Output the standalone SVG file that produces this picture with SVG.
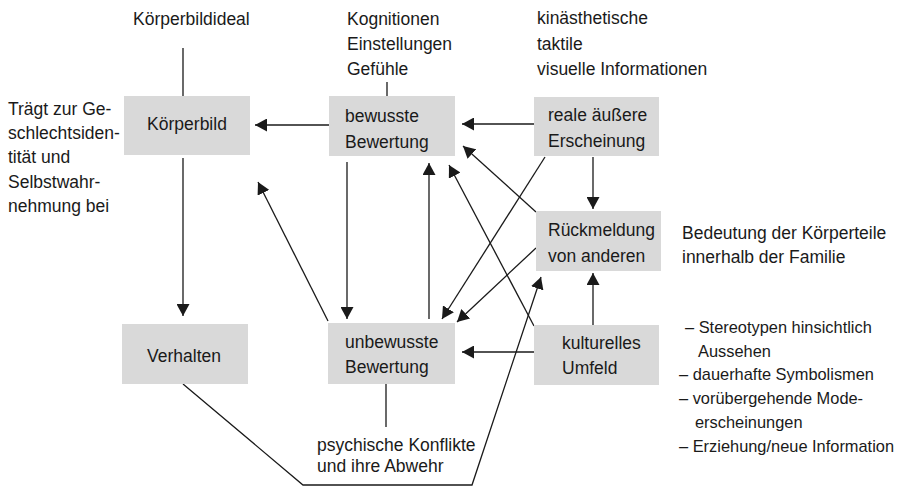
<svg xmlns="http://www.w3.org/2000/svg" width="898" height="487" viewBox="0 0 898 487">
<style>
  .box { fill: #d9d9d9; }
  text { font-family: "Liberation Sans", Arial, sans-serif; font-size: 17.5px; fill: #1a1a1a; }
  .c { text-anchor: middle; }
  .li { font-size: 16.4px; }
  .ln { stroke: #1a1a1a; stroke-width: 1.3; fill: none; }
  .ar { stroke: #1a1a1a; stroke-width: 1.3; fill: none; marker-end: url(#ah); }
</style>
<defs>
  <marker id="ah" markerUnits="userSpaceOnUse" markerWidth="13" markerHeight="13" refX="12" refY="6.5" orient="auto">
    <path d="M0,0 L12,6.5 L0,13 z" fill="#1a1a1a"/>
  </marker>
</defs>
<rect width="898" height="487" fill="#ffffff"/>

<g id="connectors">
  <line class="ln" x1="183" y1="48" x2="183" y2="96"/>
  <line class="ln" x1="387" y1="82" x2="387" y2="96"/>
  <line class="ln" x1="386" y1="384" x2="386" y2="427"/>
  <line class="ar" x1="183" y1="158" x2="183" y2="316"/>
  <line class="ar" x1="329" y1="125" x2="255" y2="125"/>
  <line class="ar" x1="534" y1="124" x2="462" y2="124"/>
  <line class="ar" x1="593" y1="157" x2="593" y2="209"/>
  <line class="ar" x1="347" y1="162" x2="347" y2="319"/>
  <line class="ar" x1="429" y1="319" x2="429" y2="163"/>
  <line class="ar" x1="328" y1="321" x2="258" y2="182"/>
  <line class="ar" x1="536" y1="212" x2="463" y2="146"/>
  <line class="ar" x1="534" y1="326" x2="449" y2="165"/>
  <line class="ar" x1="545" y1="157" x2="442" y2="319"/>
  <line class="ar" x1="536" y1="248" x2="457" y2="322"/>
  <line class="ar" x1="534" y1="352" x2="462" y2="352"/>
  <line class="ar" x1="593" y1="325" x2="593" y2="273"/>
  <polyline class="ar" points="183,384 303,485 472,485 541,277"/>
</g>

<g id="koerperbild">
  <rect class="box" x="124" y="96" width="126" height="59"/>
  <text class="c" x="187" y="130">Körperbild</text>
</g>
<g id="bewusste">
  <rect class="box" x="329" y="96" width="126" height="60"/>
  <text x="345" y="122">bewusste</text>
  <text x="345" y="148">Bewertung</text>
</g>
<g id="reale">
  <rect class="box" x="534" y="97" width="125" height="59"/>
  <text x="548" y="121">reale äußere</text>
  <text x="548" y="147">Erscheinung</text>
</g>
<g id="rueckmeldung">
  <rect class="box" x="536" y="211" width="125" height="60"/>
  <text x="548" y="236">Rückmeldung</text>
  <text x="548" y="262">von anderen</text>
</g>
<g id="verhalten">
  <rect class="box" x="122" y="324" width="126" height="60"/>
  <text class="c" x="184" y="362">Verhalten</text>
</g>
<g id="unbewusste">
  <rect class="box" x="328" y="323" width="127" height="61"/>
  <text x="345" y="348">unbewusste</text>
  <text x="345" y="373">Bewertung</text>
</g>
<g id="kulturelles">
  <rect class="box" x="534" y="325" width="125" height="60"/>
  <text x="562" y="349">kulturelles</text>
  <text x="562" y="374">Umfeld</text>
</g>

<g id="labels">
  <text x="133" y="25">Körperbildideal</text>
  <text x="347" y="25">Kognitionen</text>
  <text x="347" y="50">Einstellungen</text>
  <text x="347" y="75">Gefühle</text>
  <text x="537" y="24">kinästhetische</text>
  <text x="537" y="50">taktile</text>
  <text x="537" y="75">visuelle Informationen</text>
  <text x="8" y="115">Trägt zur Ge-</text>
  <text x="8" y="139">schlechtsiden-</text>
  <text x="8" y="163">tität und</text>
  <text x="8" y="188">Selbstwahr-</text>
  <text x="8" y="212">nehmung bei</text>
  <text x="682" y="239">Bedeutung der Körperteile</text>
  <text x="682" y="263">innerhalb der Familie</text>
  <text class="li" x="685" y="333">– Stereotypen hinsichtlich</text>
  <text class="li" x="698" y="357">Aussehen</text>
  <text class="li" x="679" y="380">– dauerhafte Symbolismen</text>
  <text class="li" x="679" y="404">– vorübergehende Mode-</text>
  <text class="li" x="695" y="428">erscheinungen</text>
  <text class="li" x="679" y="452">– Erziehung/neue Information</text>
  <text x="317" y="451">psychische Konflikte</text>
  <text x="317" y="472">und ihre Abwehr</text>
</g>
</svg>
